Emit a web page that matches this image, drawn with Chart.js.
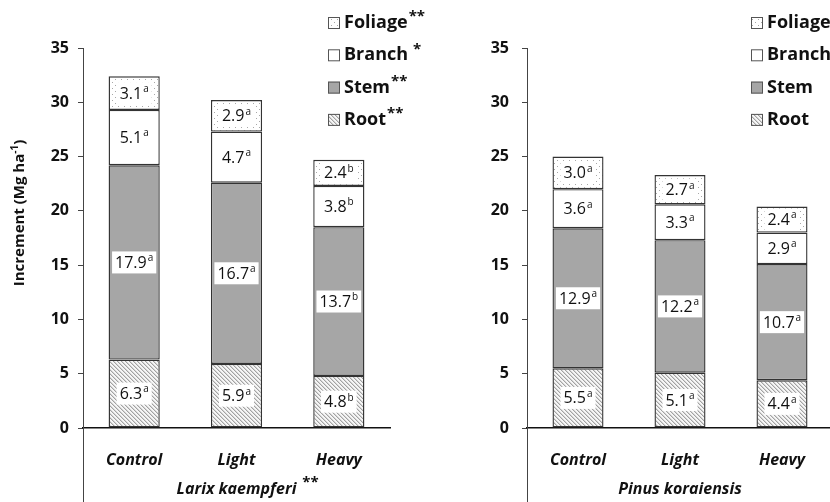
<!DOCTYPE html>
<html>
<head>
<meta charset="utf-8">
<script src="https://cdn.jsdelivr.net/npm/chart.js@4.4.1/dist/chart.umd.min.js"></script>
<style>
  html, body { margin: 0; padding: 0; background: #fff; overflow: hidden; width: 830px; height: 502px; }
  .panel { position: absolute; top: 0; height: 502px; }
  #p-larix { left: 0; width: 460px; }
  #p-pinus { left: 415px; width: 420px; }
</style>
</head>
<body>
<div class="panel" id="p-larix"><canvas id="c-larix"></canvas></div>
<div class="panel" id="p-pinus"><canvas id="c-pinus"></canvas></div>
<script>
/* ============================================================
   Biomass increment by component — Larix vs Pinus
   ============================================================ */

var CATEGORIES = ['Control', 'Light', 'Heavy'];
var PARTS      = ['Root', 'Stem', 'Branch', 'Foliage'];   // bottom -> top
var Y_MIN = 0, Y_MAX = 35, Y_STEP = 5;

// Larix kaempferi
var LARIX_ROOT        = [6.3, 5.9, 4.8];
var LARIX_STEM        = [17.9, 16.7, 13.7];
var LARIX_BRANCH      = [5.1, 4.7, 3.8];
var LARIX_FOLIAGE     = [3.1, 2.9, 2.4];
var LARIX_ROOT_SIG    = ['a', 'a', 'b'];
var LARIX_STEM_SIG    = ['a', 'a', 'b'];
var LARIX_BRANCH_SIG  = ['a', 'a', 'b'];
var LARIX_FOLIAGE_SIG = ['a', 'a', 'b'];
var LARIX_PART_STARS  = ['**', '**', ' *', '**'];
var LARIX_NAME = 'Larix kaempferi';
var LARIX_STARS = '**';

// Pinus koraiensis
var PINUS_ROOT        = [5.5, 5.1, 4.4];
var PINUS_STEM        = [12.9, 12.2, 10.7];
var PINUS_BRANCH      = [3.6, 3.3, 2.9];
var PINUS_FOLIAGE     = [3.0, 2.7, 2.4];
var PINUS_ROOT_SIG    = ['a', 'a', 'a'];
var PINUS_STEM_SIG    = ['a', 'a', 'a'];
var PINUS_BRANCH_SIG  = ['a', 'a', 'a'];
var PINUS_FOLIAGE_SIG = ['a', 'a', 'a'];
var PINUS_PART_STARS  = ['', '', '', ''];
var PINUS_NAME = 'Pinus koraiensis';
var PINUS_STARS = '';

var Y_TITLE = ['Increment (Mg ha', '-1', ')'];

var FONT = '"Open Sans", "DejaVu Sans", sans-serif';
var BORDER = '#333333';

// ---- fill patterns -------------------------------------------------
function makeHatch() {
  var c = document.createElement('canvas');
  c.width = 4; c.height = 4;
  var x = c.getContext('2d');
  x.fillStyle = '#f6f6f6'; x.fillRect(0, 0, 4, 4);
  x.fillStyle = '#a2a2a2';
  for (var i = 0; i < 4; i++) x.fillRect(i, i, 1, 1);
  x.fillStyle = '#d6d6d6';
  for (var j = 0; j < 4; j++) x.fillRect((j + 1) % 4, j, 1, 1);
  return x.createPattern(c, 'repeat');
}

function makeDots() {
  var c = document.createElement('canvas');
  c.width = 6; c.height = 6;
  var x = c.getContext('2d');
  x.fillStyle = '#ffffff'; x.fillRect(0, 0, 6, 6);
  x.fillStyle = '#a8a8a8';
  x.fillRect(1, 1, 1, 1);
  x.fillRect(4, 4, 1, 1);
  return x.createPattern(c, 'repeat');
}

var FILLS = [makeHatch(), '#a6a6a6', '#ffffff', makeDots()];

// ---- plugins ---------------------------------------------------------
var segmentLabels = {
  id: 'segmentLabels',
  afterDatasetsDraw: function(chart) {
    var ctx = chart.ctx;
    ctx.save();
    chart.data.datasets.forEach(function(ds, di) {
      var meta = chart.getDatasetMeta(di);
      meta.data.forEach(function(bar, i) {
        var val = ds.data[i].toFixed(1);
        var sig = ds.sig[i];
        var cy = (bar.y + bar.base) / 2;
        ctx.font = '16px ' + FONT;
        var w1 = ctx.measureText(val).width;
        ctx.font = '10px ' + FONT;
        var w2 = ctx.measureText(sig).width;
        var tw = w1 + w2 + 1;
        var bw = tw + 6, bh = 22;
        var bx = bar.x - bw / 2;
        ctx.fillStyle = '#ffffff';
        ctx.fillRect(bx, cy - bh / 2, bw, bh);
        ctx.fillStyle = '#111';
        ctx.textBaseline = 'middle';
        ctx.textAlign = 'left';
        ctx.font = '16px ' + FONT;
        ctx.fillText(val, bx + 3, cy + 1);
        ctx.font = '10px ' + FONT;
        ctx.fillText(sig, bx + 3 + w1 + 1, cy - 4);
      });
    });
    ctx.restore();
  }
};

var extras = {
  id: 'extras',
  afterDraw: function(chart, args, o) {
    var ctx = chart.ctx, a = chart.chartArea;
    ctx.save();
    // y axis line continues below the x axis
    ctx.strokeStyle = '#444';
    ctx.lineWidth = 1;
    ctx.beginPath();
    ctx.moveTo(a.left + 0.5, a.bottom);
    ctx.lineTo(a.left + 0.5, chart.height);
    ctx.stroke();

    // legend, top row = last dataset
    var n = chart.data.datasets.length;
    for (var k = 0; k < n; k++) {
      var di = n - 1 - k;
      var ds = chart.data.datasets[di];
      var y = o.legendY + k * o.legendGap;
      ctx.fillStyle = ds.backgroundColor;
      ctx.fillRect(o.legendX, y - 6, 12, 12);
      ctx.strokeStyle = '#555';
      ctx.lineWidth = 1;
      ctx.strokeRect(o.legendX + 0.5, y - 5.5, 11, 11);
      ctx.fillStyle = '#111';
      ctx.textBaseline = 'middle';
      ctx.textAlign = 'left';
      ctx.font = 'bold 18px ' + FONT;
      ctx.fillText(ds.label, o.legendX + 16, y);
      var lw = ctx.measureText(ds.label).width;
      if (o.stars[di]) {
        ctx.font = 'bold 15px ' + FONT;
        ctx.fillText(o.stars[di], o.legendX + 17 + lw, y - 6);
      }
    }

    // stars after the species name
    if (o.nameStars) {
      var xs = chart.scales.x;
      ctx.font = 'bold italic 16px ' + FONT;
      var nw = ctx.measureText(xs.options.title.text).width;
      var cx = (xs.left + xs.right) / 2;
      ctx.font = 'bold 15px ' + FONT;
      ctx.textAlign = 'left';
      ctx.fillText(' ' + o.nameStars, cx + nw / 2 + 2, chart.height - 19);
    }

    // rotated y title with superscript
    if (o.yTitle) {
      ctx.translate(o.yTitleX, o.yTitleY);
      ctx.rotate(-Math.PI / 2);
      ctx.font = 'bold 15px ' + FONT;
      var t0 = o.yTitle[0], t1 = o.yTitle[1], t2 = o.yTitle[2];
      var w0 = ctx.measureText(t0).width, w2 = ctx.measureText(t2).width;
      ctx.font = 'bold 10px ' + FONT;
      var w1 = ctx.measureText(t1).width;
      var sx = -(w0 + w1 + w2) / 2;
      ctx.textAlign = 'left';
      ctx.textBaseline = 'middle';
      ctx.font = 'bold 15px ' + FONT;
      ctx.fillText(t0, sx, 0);
      ctx.font = 'bold 10px ' + FONT;
      ctx.fillText(t1, sx + w0, -5);
      ctx.font = 'bold 15px ' + FONT;
      ctx.fillText(t2, sx + w0 + w1, 0);
    }
    ctx.restore();
  }
};

// ---- chart builder ---------------------------------------------------
function makeSet(label, data, sig, fill) {
  return {
    label: label, data: data, sig: sig,
    backgroundColor: fill, borderColor: BORDER, borderWidth: 1.4,
    borderSkipped: false, barPercentage: 0.5, categoryPercentage: 1, stack: 's'
  };
}

function makeChart(canvasId, sets, name, cfg) {
  return new Chart(document.getElementById(canvasId).getContext('2d'), {
    type: 'bar',
    data: { labels: CATEGORIES, datasets: sets },
    plugins: [segmentLabels, extras],
    options: {
      responsive: true, maintainAspectRatio: false, animation: false,
      layout: { padding: { top: 48, right: cfg.padRight, bottom: 0, left: 0 } },
      plugins: {
        legend: { display: false },
        tooltip: { enabled: false },
        extras: cfg.extras
      },
      scales: {
        x: {
          stacked: true,
          grid: { display: false },
          border: { display: true, color: '#111', width: 1.5 },
          ticks: { color: '#111', padding: 15, font: { family: FONT, size: 16, weight: 'bold', style: 'italic' } },
          title: { display: true, text: name, color: '#111', padding: { top: 0, bottom: 3 },
                   font: { family: FONT, size: 16, weight: 'bold', style: 'italic' } },
          afterFit: function(s) { s.height = 74; }
        },
        y: {
          stacked: true, min: Y_MIN, max: Y_MAX,
          grid: { display: true, drawOnChartArea: false, drawTicks: true, tickLength: 5, color: '#444' },
          border: { display: true, color: '#444', width: 1 },
          ticks: { stepSize: Y_STEP, color: '#111', padding: cfg.tickPad, font: { family: FONT, size: 16, weight: 'bold' } },
          afterFit: function(s) { s.width = cfg.yWidth; }
        }
      }
    }
  });
}

makeChart('c-larix', [
  makeSet(PARTS[0], LARIX_ROOT, LARIX_ROOT_SIG, FILLS[0]),
  makeSet(PARTS[1], LARIX_STEM, LARIX_STEM_SIG, FILLS[1]),
  makeSet(PARTS[2], LARIX_BRANCH, LARIX_BRANCH_SIG, FILLS[2]),
  makeSet(PARTS[3], LARIX_FOLIAGE, LARIX_FOLIAGE_SIG, FILLS[3])
], LARIX_NAME, {
  padRight: 70, yWidth: 83, tickPad: 9,
  extras: { legendX: 328, legendY: 23, legendGap: 32.3, stars: LARIX_PART_STARS,
            nameStars: LARIX_STARS, yTitle: Y_TITLE, yTitleX: 20, yTitleY: 213 }
});

makeChart('c-pinus', [
  makeSet(PARTS[0], PINUS_ROOT, PINUS_ROOT_SIG, FILLS[0]),
  makeSet(PARTS[1], PINUS_STEM, PINUS_STEM_SIG, FILLS[1]),
  makeSet(PARTS[2], PINUS_BRANCH, PINUS_BRANCH_SIG, FILLS[2]),
  makeSet(PARTS[3], PINUS_FOLIAGE, PINUS_FOLIAGE_SIG, FILLS[3])
], PINUS_NAME, {
  padRight: 2, yWidth: 112, tickPad: 13,
  extras: { legendX: 336, legendY: 23, legendGap: 32.3, stars: PINUS_PART_STARS,
            nameStars: PINUS_STARS, yTitle: null }
});
</script>
</body>
</html>
